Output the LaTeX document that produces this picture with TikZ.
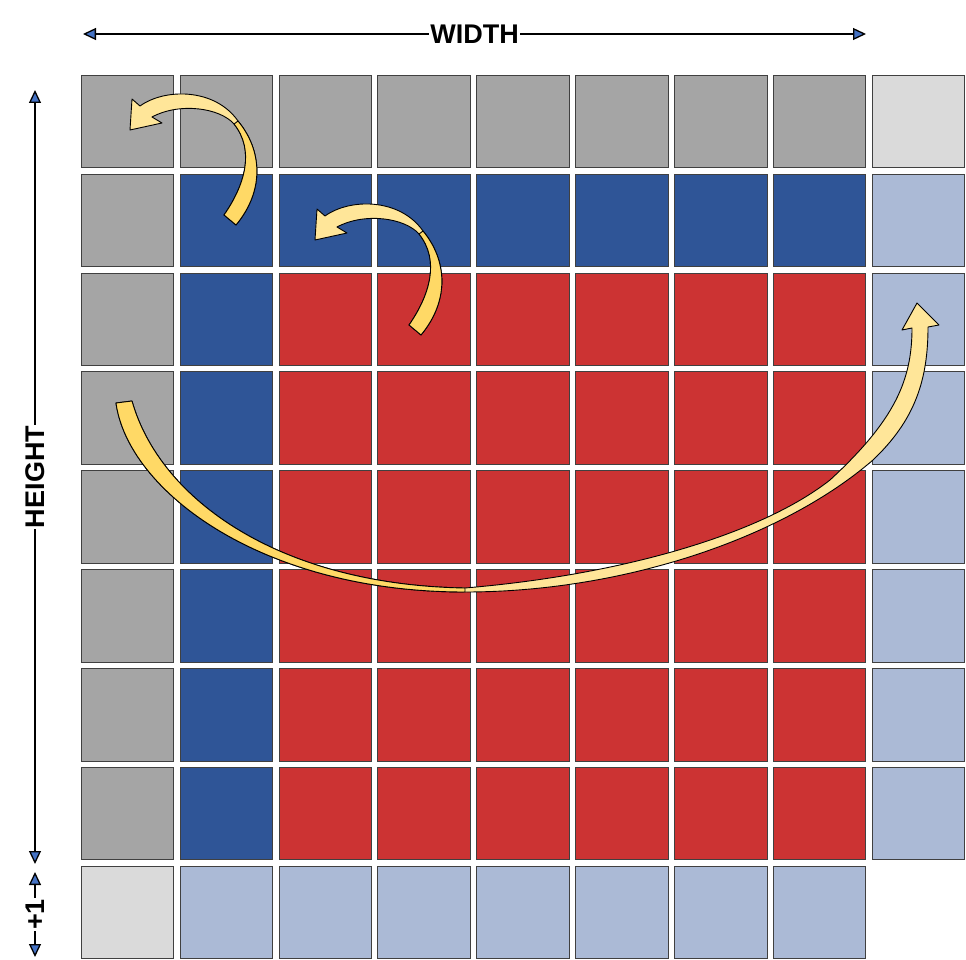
\documentclass[tikz,border=0pt]{standalone}
\usepackage{fontspec}
\setsansfont{Liberation Sans}
\usetikzlibrary{arrows.meta}

\definecolor{cgray}{HTML}{A5A5A5}
\definecolor{cltgray}{HTML}{DADADA}
\definecolor{cblue}{HTML}{2F5597}
\definecolor{cltblue}{HTML}{ABBAD6}
\definecolor{cred}{HTML}{CC3333}
\definecolor{tipblue}{HTML}{4472C4}
\definecolor{lightyel}{HTML}{FFE699}
\definecolor{darkyel}{HTML}{FFD966}

\tikzset{curl/.pic={
  \path[swirl] (224,215) .. controls (245,185) and (255,150) .. (234,124)
    .. controls (220,108) and (180,102) .. (152,117)
    -- (162,123) -- (130,130) -- (132,99) -- (140,106)
    .. controls (165,88) and (215,88) .. (238,121)
    .. controls (262,150) and (265,190) .. (236,225) -- cycle;
  \path[swirl,fill=darkyel] (224,215) .. controls (245,185) and (255,150) .. (234,124)
    -- (238,121) .. controls (262,150) and (265,190) .. (236,225) -- cycle;
}}

\begin{document}
\begin{tikzpicture}[x=1pt,y=-1pt,
 every node/.style={font=\sffamily\bfseries\fontsize{27}{27}\selectfont},
 cell/.style={rectangle,draw=black!75,line width=1pt,minimum size=92.5pt,inner sep=0pt},
 dim/.style={line width=1.3pt,>={Triangle[length=13pt,width=12pt,fill=tipblue]},<->},
 dimlbl/.style={fill=white,inner xsep=1pt,inner ysep=0pt},
 swirl/.style={draw=black,line width=0.9pt,line join=round,fill=lightyel}]
\useasboundingbox (0,0) rectangle (966,960);

% top row
\foreach \c in {0,...,7}
  \node[cell,fill=cgray] (k-0-\c) at ({127.5+98.875*\c},121.5) {};
\node[cell,fill=cltgray] (k-0-8) at (918.5,121.5) {};
% side columns
\foreach \r in {1,...,7}{
  \node[cell,fill=cgray] (k-\r-0) at (127.5,{121.5+98.875*\r}) {};
  \node[cell,fill=cblue] (k-\r-1) at (226.375,{121.5+98.875*\r}) {};
  \node[cell,fill=cltblue] (k-\r-8) at (918.5,{121.5+98.875*\r}) {};
}
% inner block
\foreach \c in {2,...,7}{
  \node[cell,fill=cblue] (k-1-\c) at ({127.5+98.875*\c},220.375) {};
  \foreach \r in {2,...,7}
    \node[cell,fill=cred] (k-\r-\c) at ({127.5+98.875*\c},{121.5+98.875*\r}) {};
}
% bottom row
\node[cell,fill=cltgray] (k-8-0) at (127.5,912.5) {};
\foreach \c in {1,...,7}
  \node[cell,fill=cltblue] (k-8-\c) at ({127.5+98.875*\c},912.5) {};

% dimensions
\coordinate (w-l) at (83,34);
\coordinate (w-r) at (866,34);
\coordinate (h-t) at (35,90);
\coordinate (h-b) at (35,864);
\coordinate (p-t) at (35,872);
\coordinate (p-b) at (35,957);
\draw[dim] (w-l) -- node[dimlbl] {WIDTH} (w-r);
\draw[dim] (h-b) -- node[dimlbl,rotate=90] {HEIGHT} (h-t);
\draw[dim] (p-b) -- node[dimlbl,rotate=90] {+1} (p-t);

% curved arrows
\pic at (0,0) {curl};
\pic at (185,110) {curl};
\path[swirl] (116,403) .. controls (128,490) and (260,592) .. (465,592)
  .. controls (620,592) and (780,540) .. (873,460)
  .. controls (915,420) and (928,380) .. (928,327)
  -- (939,325) -- (917,303) -- (902,330) -- (912,328)
  .. controls (912,380) and (895,420) .. (830,480)
  .. controls (760,535) and (620,575) .. (465,588)
  .. controls (280,585) and (160,500) .. (132,401) -- cycle;
\path[swirl,fill=darkyel] (116,403) .. controls (128,490) and (260,592) .. (465,592)
  -- (465,588) .. controls (280,585) and (160,500) .. (132,401) -- cycle;
\end{tikzpicture}
\end{document}
